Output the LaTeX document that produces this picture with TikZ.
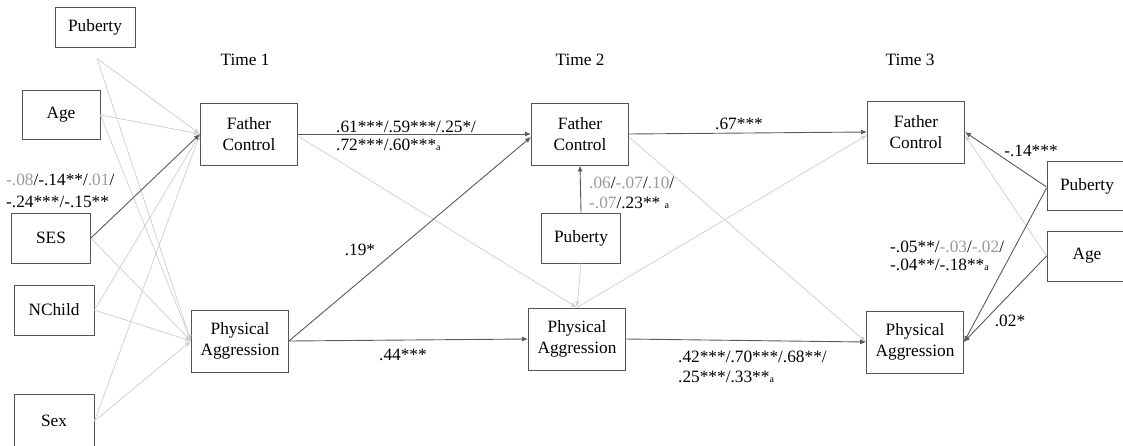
\documentclass[tikz,border=0pt]{standalone}
\usepackage{fontspec}
\newfontfamily\tms{Liberation Serif}
\usetikzlibrary{arrows.meta}
\definecolor{dk}{HTML}{5A5A5A}
\definecolor{lt}{HTML}{D2D2D2}
\definecolor{gtxt}{HTML}{9A9A9A}
\definecolor{bx}{HTML}{555555}
\newcommand\gtx[1]{\textcolor{gtxt}{#1}}
\newcommand\supa{{\fontsize{10}{10}\selectfont a}}
\begin{document}
\begin{tikzpicture}[x=1pt,y=-1pt,
  every node/.style={font=\tms\fontsize{17.3}{21}\selectfont, inner sep=0pt},
  box/.style={draw=bx, line width=0.9pt, fill=white, align=center},
  fcbox/.style={box, minimum width=97pt, minimum height=62pt},
  smbox/.style={box, minimum width=79pt, minimum height=50pt},
  lbl/.style={align=left, font=\tms\fontsize{17.3}{20}\selectfont},
  darr/.style={draw=dk, line width=0.9pt, -{Latex[length=6pt,width=5pt]}},
  larr/.style={draw=lt, line width=0.8pt, -{Latex[length=6pt,width=5pt]}},
]
\useasboundingbox (0,0) rectangle (1123,445);
% time labels
\node (t1) at (245,60) {Time 1};
\node (t2) at (580,60) {Time 2};
\node (t3) at (910,60) {Time 3};
% left covariates
\node[smbox, minimum width=80pt, minimum height=40pt] (pubL) at (95,27) {Puberty};
\node[smbox, minimum width=78pt, minimum height=49pt] (ageL) at (61,115) {Age};
\node[smbox] (ses) at (51,238) {SES};
\node[smbox, minimum width=80pt] (nch) at (54,310) {NChild};
\node[smbox, minimum width=80pt, minimum height=53pt] (sex) at (54,421) {Sex};
% time 1
\node[fcbox] (fc1) at (249,134) {Father\\Control};
\node[fcbox] (pa1) at (240,341) {Physical\\Aggression};
% time 2
\node[fcbox] (fc2) at (580,134) {Father\\Control};
\node[smbox] (pub2) at (581,238) {Puberty};
\node[fcbox] (pa2) at (577,339) {Physical\\Aggression};
% time 3
\node[fcbox] (fc3) at (916,132) {Father\\Control};
\node[fcbox] (pa3) at (915,342) {Physical\\Aggression};
\node[smbox, minimum width=80pt, minimum height=49pt] (pubR) at (1087,186) {Puberty};
\node[smbox, minimum width=80pt] (ageR) at (1087,256) {Age};
\coordinate (pubLo) at ([xshift=2pt,yshift=-11pt]pubL.south);
% left edges to FC1 and PA1
\draw[larr] (pubLo) -- (fc1.west);
\draw[larr] (ageL.east) -- (fc1.west);
\draw[larr] (nch.east) -- (fc1.west);
\draw[larr] (sex.east) -- (fc1.west);
\draw[larr] (pubLo) -- (pa1.west);
\draw[larr] (ageL.east) -- (pa1.west);
\draw[larr] (ses.east) -- (pa1.west);
\draw[larr] (nch.east) -- (pa1.west);
\draw[larr] (sex.east) -- (pa1.west);
\draw[darr] (ses.east) -- (fc1.west);
% cross-lagged light
\draw[larr] ([yshift=-2pt]fc1.east) -- (pa2.north);
\draw[larr] ([yshift=-3pt]fc2.east) -- (pa3.west);
\draw[larr] (pa2.north) -- ([yshift=-3pt]fc3.west);
\draw[larr] (pub2.south) -- (pa2.north);
\draw[larr] (ageR.west) -- ([yshift=-3pt]fc3.east);
% main dark arrows
\draw[darr] (fc1.east) -- (fc2.west);
\draw[darr] (pa1.east) -- ([yshift=-3pt]fc2.west);
\draw[darr] (pa1.east) -- (pa2.west);
\draw[darr] (fc2.east) -- (fc3.west);
\draw[darr] (pa2.east) -- (pa3.west);
\draw[darr] (pub2.north) -- (fc2.south);
\draw[darr] ([yshift=-1pt]pubR.west) -- (fc3.east);
\draw[darr] ([yshift=-2pt]pubR.west) -- (pa3.east);
\draw[darr] (ageR.west) -- (pa3.east);
% labels
\node[lbl, anchor=west, font=\tms\fontsize{17.3}{21.5}\selectfont] (l0) at (6,191) {\gtx{-.08}/-.14**/\gtx{.01}/\\-.24***/-.15**};
\node[lbl, anchor=west, font=\tms\fontsize{17.3}{18.5}\selectfont] (l1) at (336,136) {.61***/.59***/.25*/\\.72***/.60***\supa};
\node (l2) at (360,250) {.19*};
\node (l3) at (403,355) {.44***};
\node[lbl, anchor=west] (l4) at (589,193) {\gtx{.06}/\gtx{-.07}/\gtx{.10}/\\\gtx{-.07}/.23** \supa};
\node (l5) at (739,124) {.67***};
\node[lbl, anchor=west] (l6) at (678,367) {.42***/.70***/.68**/\\.25***/.33**\supa};
\node (l7) at (1031,151) {-.14***};
\node[lbl, anchor=west, font=\tms\fontsize{17.3}{18.5}\selectfont] (l8) at (890,256) {-.05**/\gtx{-.03}/\gtx{-.02}/\\-.04**/-.18**\supa};
\node (l9) at (1010,321) {.02*};
\end{tikzpicture}
\end{document}
